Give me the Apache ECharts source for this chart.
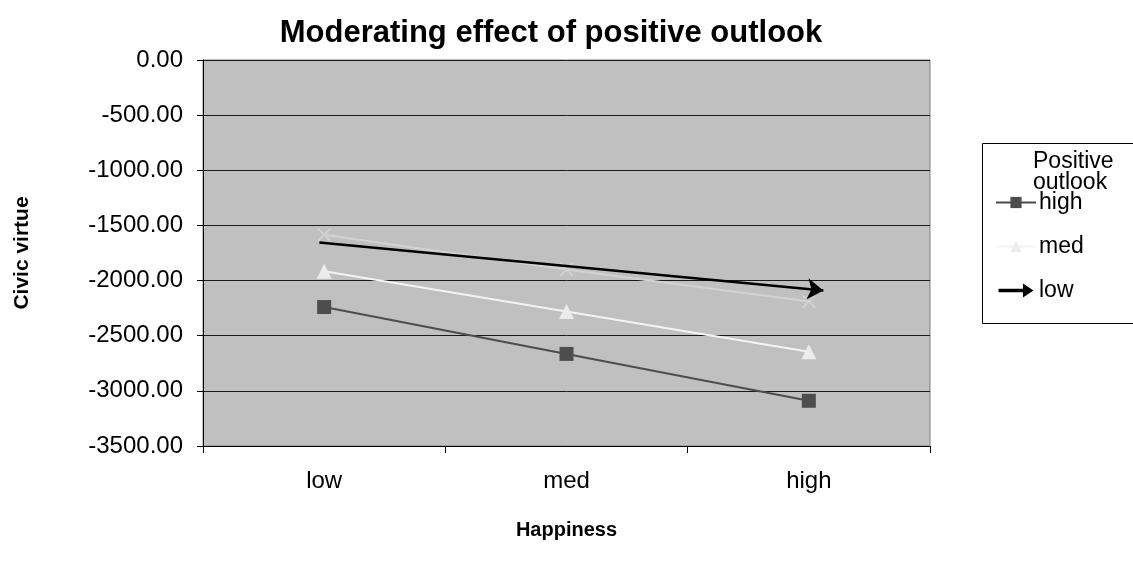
<!DOCTYPE html>
<html>
<head>
<meta charset="utf-8">
<script src="https://cdn.jsdelivr.net/npm/echarts@6/dist/echarts.min.js"></script>
<style>
  html, body { margin: 0; padding: 0; background: #fff; }
  #chart { width: 1133px; height: 573px; }
</style>
</head>
<body>
<div id="chart"></div>
<script>
// categories on the x axis (happiness)
const categories = ['low', 'med', 'high']

// civic virtue per positive-outlook level
const highOutlook = [-2240, -2665, -3090]
const medOutlook = [-1915, -2280, -2645]
const lowOutlook = [-1585, -1900, -2190]

// drawn-on arrow (x in category index units, y in axis units)
const arrowStart = [-0.02, -1655]
const arrowEnd = [2.06, -2090]

const chart = echarts.init(document.getElementById('chart'))

const font = 'Liberation Sans, Arial, sans-serif'

const option = {
  animation: false,
  title: {
    text: 'Moderating effect of positive outlook',
    left: 546,
    textAlign: 'center',
    top: 13,
    textStyle: { fontFamily: font, fontSize: 31, fontWeight: 'bold', color: '#000' }
  },
  grid: { left: 203, right: 203, top: 60, bottom: 127, show: true, backgroundColor: '#c0c0c0', borderColor: '#808080', borderWidth: 1 },
  xAxis: [{
    type: 'category',
    data: categories,
    boundaryGap: true,
    position: 'bottom',
    name: 'Happiness',
    nameLocation: 'middle',
    nameGap: 74,
    nameTextStyle: { fontFamily: font, fontSize: 20, fontWeight: 'bold', color: '#000' },
    axisLine: { onZero: false, lineStyle: { color: '#000', width: 1 } },
    axisTick: { show: true, length: 7, lineStyle: { color: '#000' } },
    axisLabel: { fontFamily: font, fontSize: 24, color: '#000', margin: 23 },
    splitLine: { show: false }
  }, {
    type: 'value',
    min: -0.5,
    max: 2.5,
    show: false
  }],
  yAxis: {
    type: 'value',
    min: -3500,
    max: 0,
    interval: 500,
    name: 'Civic virtue',
    nameLocation: 'middle',
    nameGap: 170,
    nameTextStyle: { fontFamily: font, fontSize: 21, fontWeight: 'bold', color: '#000' },
    axisLine: { show: true, onZero: false, lineStyle: { color: '#000', width: 1 } },
    axisTick: { show: true, length: 6, lineStyle: { color: '#000' } },
    axisLabel: { fontFamily: font, fontSize: 24, color: '#000', margin: 20, formatter: v => v.toFixed(2) },
    splitLine: { show: true, lineStyle: { color: '#1a1a1a', width: 1 } }
  },
  legend: {
    orient: 'vertical',
    left: 990,
    top: 186,
    itemGap: 21,
    itemWidth: 40,
    itemHeight: 14,
    textStyle: { fontFamily: font, fontSize: 23, color: '#000', padding: [0, 0, 0, -2] },
    data: [
      { name: 'high' },
      { name: 'med' },
      { name: 'low', icon: 'path://M0,6 L28,6 L28,0 L40,8 L28,16 L28,10 L0,10 Z', itemStyle: { color: '#000' } }
    ]
  },
  graphic: [
    { type: 'rect', left: 982, top: 143, shape: { width: 160, height: 180 }, style: { fill: '#fff', stroke: '#000', lineWidth: 1 }, z: -1 },
    { type: 'text', left: 1033, top: 150, style: { text: 'Positive\noutlook', font: '23px ' + font, fill: '#000', lineHeight: 21 } }
  ],
  series: [
    {
      name: 'high',
      type: 'line',
      data: highOutlook,
      symbol: 'rect',
      symbolSize: 14,
      lineStyle: { color: '#4d4d4d', width: 2 },
      itemStyle: { color: '#4d4d4d' }
    },
    {
      name: 'med',
      type: 'line',
      data: medOutlook,
      symbol: 'triangle',
      symbolSize: 15,
      lineStyle: { color: '#f4f4f4', width: 2 },
      itemStyle: { color: '#ececec' }
    },
    {
      name: 'low',
      type: 'line',
      data: lowOutlook,
      symbol: 'path://M0,0 L2,0 L10,8 L18,0 L20,0 L20,2 L12,10 L20,18 L20,20 L18,20 L10,12 L2,20 L0,20 L0,18 L8,10 L0,2 Z',
      symbolSize: 13,
      lineStyle: { color: '#d2d2d2', width: 2 },
      itemStyle: { color: '#d2d2d2' }
    },
    {
      name: 'arrow',
      type: 'line',
      xAxisIndex: 1,
      data: [],
      symbol: 'none',
      markLine: {
        silent: true,
        symbol: ['none', 'arrow'],
        symbolSize: [16, 16],
        label: { show: false },
        lineStyle: { color: '#000', width: 2.5, type: 'solid' },
        data: [[{ coord: arrowStart }, { coord: arrowEnd }]]
      }
    }
  ]
}

chart.setOption(option)
</script>
</body>
</html>
